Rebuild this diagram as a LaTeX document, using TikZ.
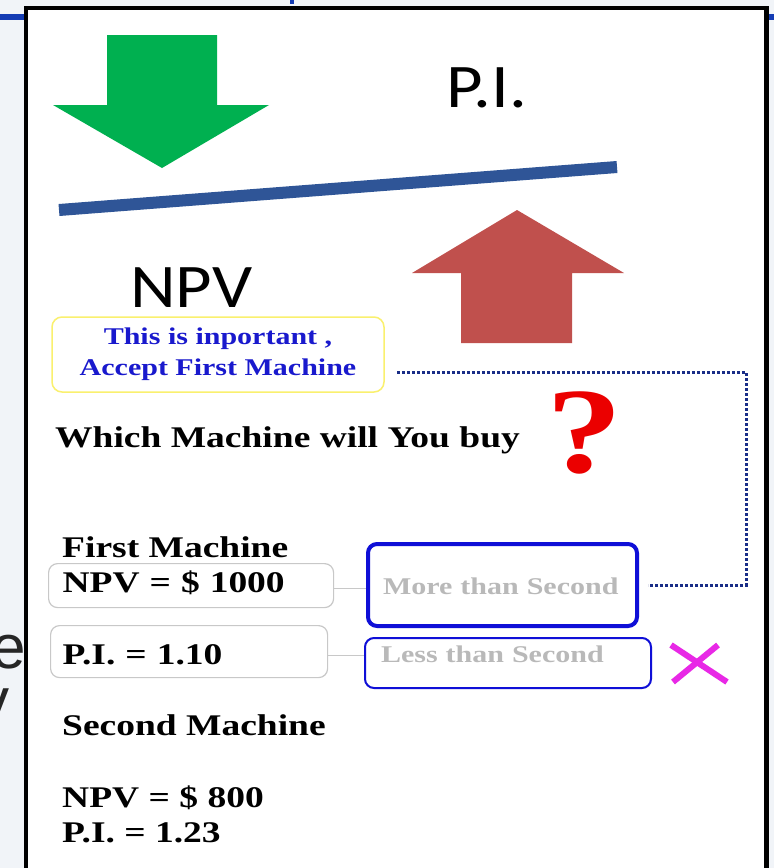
\documentclass[tikz,border=0pt]{standalone}
\usepackage{fontspec}
\setmainfont{Liberation Serif}
\newfontfamily\slidesans{Carlito}[FakeStretch=1.14]
\newfontfamily\slidebold{Liberation Serif Bold}[FakeStretch=1.25]
\newfontfamily\backfont{Liberation Sans}
\usetikzlibrary{positioning, calc}

\definecolor{slidebg}{RGB}{241,244,248}
\definecolor{titleblue}{RGB}{20,60,180}
\definecolor{npvgreen}{RGB}{0,176,80}
\definecolor{pired}{RGB}{192,80,77}
\definecolor{barblue}{RGB}{47,85,151}
\definecolor{notebox}{RGB}{250,240,110}
\definecolor{notetext}{RGB}{25,25,205}
\definecolor{boxblue}{RGB}{15,15,215}
\definecolor{dotblue}{RGB}{25,45,135}
\definecolor{softgray}{RGB}{200,200,200}
\definecolor{ghosttext}{RGB}{185,185,185}
\definecolor{qred}{RGB}{235,0,0}
\definecolor{crossmag}{RGB}{232,40,230}

\begin{document}
\begin{tikzpicture}[
  x = 1pt, y = -1pt,
  heading/.style={font=\slidesans\fontsize{62}{62}\selectfont, inner sep=0pt, anchor=base west},
  plain/.style={font=\slidebold\fontsize{30}{30}\selectfont, inner sep=0pt, anchor=base west},
  valuebox/.style={draw=softgray, line width=1.2pt, rounded corners=9pt, inner sep=0pt, align=left, anchor=north west, font=\slidebold\fontsize{30}{30}\selectfont},
  compbox/.style={draw=boxblue, rounded corners=9pt, inner sep=0pt, align=left, anchor=north west, text=ghosttext, font=\slidebold\fontsize{24}{24}\selectfont},
  note/.style={draw=notebox, line width=1.5pt, rounded corners=10pt, inner sep=0pt, align=center, text=notetext, font=\slidebold\fontsize{24}{31}\selectfont, minimum width=332pt, minimum height=75pt},
  link/.style={draw=softgray, line width=1pt},
  dotline/.style={draw=dotblue, line width=3pt, dash pattern=on 2.6pt off 2.4pt},
  cross/.style={draw=crossmag, line width=6pt}
]
%general params
\def\framel{26}
\def\framer{766.5}
\def\framet{8}
\def\dotx{746}

\useasboundingbox (0,0) rectangle (774,868);
\clip (0,0) rectangle (774,868);

%slide behind
\fill[slidebg] (0,0) rectangle (774,868);
\fill[titleblue] (0,14) rectangle (774,20);
\fill[titleblue] (290,0) rectangle (294,4);
\node[font=\backfont\fontsize{62}{62}\selectfont, text=black!85, inner sep=0pt, anchor=base east] (backe) at (26,668) {e};
\node[font=\backfont\fontsize{62}{62}\selectfont, text=black!85, inner sep=0pt, anchor=base east] (backy) at (10,721) {y};

%frame
\draw[fill=white, line width=4.5pt] (\framel,\framet) rectangle (\framer,900);

%arrows and bar
\fill[npvgreen] (107,35) -- (217,35) -- (217,105) -- (269,105) -- (162,168) -- (53,105) -- (107,105) -- cycle;
\draw[barblue, line width=12pt] (59,210) -- (617,167);
\fill[pired] (517,210) -- (624,273) -- (572,273) -- (572,343) -- (461,343) -- (461,273) -- (412,273) -- cycle;
\node[heading] (pilabel) at (446,107) {P.I.};
\node[heading] (npvlabel) at (130,307) {NPV};

%note and question
\node[note] (notebox) at (218,354.5) {This is inportant ,\\Accept First Machine};
\node[plain] (question) at (55,447) {Which Machine will You buy};
\node[plain, font=\slidebold\fontsize{122}{122}\selectfont, text=qred] (qmark) at (546,472) {?};

%first machine
\node[plain] (first) at (62,557) {First Machine};
\node[valuebox, minimum width=285pt, minimum height=44pt, inner xsep=14pt, text width=257pt, text height=20pt, text depth=6pt] (npvbox) at (48,563) {NPV = \$ 1000};
\node[valuebox, minimum width=277pt, minimum height=52pt, inner xsep=12pt, text width=253pt, text height=30pt, text depth=4pt] (pibox) at (50,625) {P.I. = 1.10};
\node[compbox, line width=4pt, minimum width=269pt, minimum height=82pt, inner xsep=15pt, text width=239pt, text height=24pt, text depth=6pt] (morebox) at (366,542) {More than Second};
\node[compbox, line width=2pt, minimum width=286pt, minimum height=50pt, inner xsep=16pt, text width=254pt, text height=17pt, text depth=19pt] (lessbox) at (364,637) {Less than Second};

\draw[link] (npvbox.east) ++(0,3) -- ($(npvbox.east -| morebox.west)+(0,3)$);
\draw[link] (pibox.east) ++(0,4) -- ($(pibox.east -| lessbox.west)+(0,4)$);

\coordinate (dotstart) at (397,372);
\coordinate (dotcorner) at (\dotx,583);
\draw[dotline, shorten >=9pt] (dotstart) -| (dotcorner) |- (morebox.east);

\draw[cross] (671,645) -- (727,682);
\draw[cross] (718,645) -- (673,682);

%second machine
\node[plain] (second) at (62,735) {Second Machine};
\node[plain] (npvtwo) at (62,807) {NPV = \$ 800};
\node[plain] (pitwo) at (62,842) {P.I. = 1.23};

\end{tikzpicture}
\end{document}
